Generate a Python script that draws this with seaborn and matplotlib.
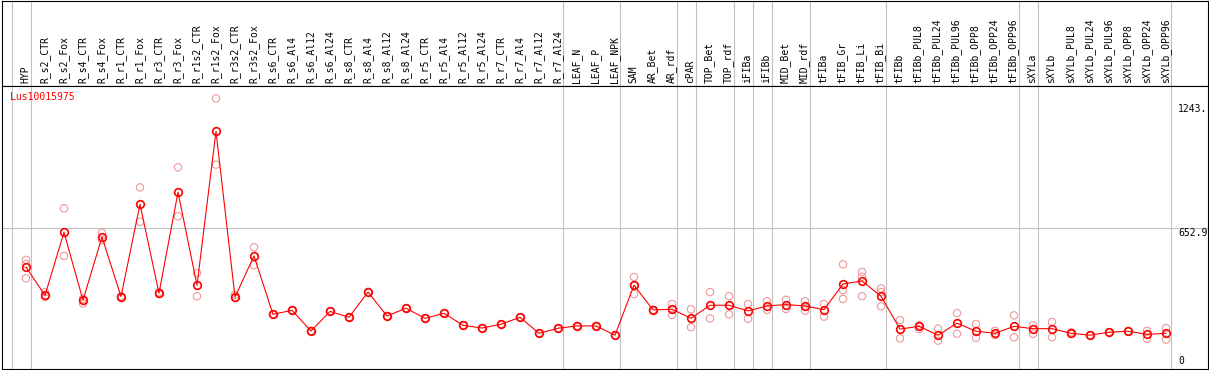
import numpy as np
import pandas as pd
import matplotlib.pyplot as plt
import seaborn as sns

nan = np.nan

gene_id = "Lus10015975"

samples = [
    "HYP", "R_s2_CTR", "R_s2_Fox", "R_s4_CTR", "R_s4_Fox", "R_r1_CTR", "R_r1_Fox",
    "R_r3_CTR", "R_r3_Fox", "R_r1s2_CTR", "R_r1s2_Fox", "R_r3s2_CTR", "R_r3s2_Fox",
    "R_s6_CTR", "R_s6_Al4", "R_s6_Al12", "R_s6_Al24", "R_s8_CTR", "R_s8_Al4",
    "R_s8_Al12", "R_s8_Al24", "R_r5_CTR", "R_r5_Al4", "R_r5_Al12", "R_r5_Al24",
    "R_r7_CTR", "R_r7_Al4", "R_r7_Al12", "R_r7_Al24", "LEAF_N", "LEAF_P", "LEAF_NPK",
    "SAM", "AR_Bet", "AR_rdf", "cPAR", "TOP_Bet", "TOP_rdf", "iFIBa", "iFIBb",
    "MID_Bet", "MID_rdf", "tFIBa", "tFIB_Gr", "tFIB_Li", "tFIB_Bi", "tFIBb",
    "tFIBb_PUL8", "tFIBb_PUL24", "tFIBb_PUL96", "tFIBb_OPP8", "tFIBb_OPP24",
    "tFIBb_OPP96", "sXYLa", "sXYLb", "sXYLb_PUL8", "sXYLb_PUL24", "sXYLb_PUL96",
    "sXYLb_OPP8", "sXYLb_OPP24", "sXYLb_OPP96",
]

mean_expr = [
    469, 335, 634, 312, 612, 329, 767, 345, 824, 383,
    1113, 327, 522, 245, 264, 166, 259, 231, 351, 237,
    274, 226, 250, 193, 180, 198, 231, 155, 179, 190,
    190, 146, 383, 266, 269, 226, 288, 288, 261, 285,
    291, 285, 267, 389, 403, 331, 175, 188, 146, 203,
    165, 155, 188, 177, 177, 155, 146, 160, 165, 150, 155,
]

rep_a = [
    503, 350, 748, 319, 632, 332, 847, 350, 942, 441,
    1269, 337, 563, 245, 264, 166, 259, 231, 351, 237,
    274, 226, 250, 193, 180, 198, 231, 155, 179, 190,
    190, 146, 422, 266, 294, 269, 350, 331, 294, 307,
    314, 307, 294, 482, 446, 368, 218, 193, 177, 251,
    199, 167, 240, 193, 209, 160, 146, 160, 165, 167, 180,
]

rep_b = [
    416, 327, 522, 297, 597, 325, 684, 341, 710, 331,
    955, 322, 478, 245, 264, 166, 259, 231, 351, 237,
    274, 226, 250, 193, 180, 198, 231, 155, 179, 190,
    190, 146, 341, 266, 242, 184, 226, 245, 224, 266,
    270, 262, 234, 318, 331, 283, 131, 175, 120, 153,
    134, 147, 136, 153, 136, 152, 146, 160, 165, 129, 125,
]

rep_c = [
    484, nan, nan, nan, nan, nan, nan, nan, nan, nan,
    nan, nan, nan, nan, nan, nan, nan, nan, nan, nan,
    nan, nan, nan, nan, nan, nan, nan, nan, nan, nan,
    nan, nan, 383, nan, 269, nan, nan, nan, nan, nan,
    nan, nan, nan, 360, 423, 350, nan, nan, nan, nan,
    nan, nan, nan, nan, nan, nan, nan, nan, nan, nan, nan,
]

# last sample index of each tissue group (-1 = left edge)
group_ends = [-1, 0, 28, 31, 34, 35, 37, 38, 39, 41, 45, 52, 53, 60]

y_ticks = [0, 652.9, 1243]
y_tick_labels = ["0", "652.9", "1243."]

idx = np.arange(len(samples))
means = pd.DataFrame({"pos": idx, "expr": mean_expr})
reps = pd.DataFrame({"pos": idx, "a": rep_a, "b": rep_b, "c": rep_c})
reps = reps.melt(id_vars="pos", value_name="expr").dropna()

sns.set_style("white")
plt.rcParams["font.family"] = ["DejaVu Sans Mono"]

W, H = 1209, 370
fig = plt.figure(figsize=(W / 100, H / 100), dpi=100)

head_top, head_bot, plot_bot = 0.5, 85.5, 368.5
left_px, right_px = 1.5, 1207.5
ax_head = fig.add_axes([left_px / W, (H - head_bot) / H,
                        (right_px - left_px) / W, (head_bot - head_top) / H])
ax = fig.add_axes([left_px / W, (H - plot_bot) / H,
                   (right_px - left_px) / W, (plot_bot - head_bot) / H])

x0 = (left_px - 26) / 19
x1 = (right_px - 26) / 19
for a in (ax, ax_head):
    a.set_xlim(x0, x1)
    a.set_xticks([])
    a.set_yticks([])
    a.set_xlabel("")
    a.set_ylabel("")
    for s in a.spines.values():
        s.set_color("black")
        s.set_linewidth(0.8)
    for g in group_ends:
        a.axvline(g + 0.24, color="#c0c0c0", lw=0.8, zorder=0)
ax_head.set_ylim(0, 1)

ax.set_ylim((366 - plot_bot) / 0.2109, (366 - head_bot) / 0.2109)
ax.axhline(652.9, color="#c0c0c0", lw=0.8, zorder=0)

sns.scatterplot(data=reps, x="pos", y="expr", ax=ax, marker="o", s=28,
                facecolors="none", edgecolor="#f09898", linewidth=0.8,
                zorder=2, legend=False)
sns.lineplot(data=means, x="pos", y="expr", ax=ax, color="red", lw=0.8,
             marker="o", markersize=5.5, markerfacecolor="none",
             markeredgecolor="red", markeredgewidth=1.2, zorder=3)
ax.set_xlabel("")
ax.set_ylabel("")

for i, name in enumerate(samples):
    ax_head.text(i - 0.03, 0.03, name, rotation=90, ha="center", va="bottom",
                 fontsize=7, color="black")

ax.text((10 - left_px) / (right_px - left_px), (plot_bot - 97) / (plot_bot - head_bot),
        gene_id, transform=ax.transAxes, color="red", fontsize=7,
        ha="left", va="center")

trans = ax.get_yaxis_transform()
for v, lab in zip(y_ticks, y_tick_labels):
    ax.text((1178 - left_px) / (right_px - left_px), v, lab, transform=trans,
            fontsize=7, ha="left", va="bottom" if v == 0 else "top",
            color="black", clip_on=True)

fig.savefig("out.png", dpi=100)
